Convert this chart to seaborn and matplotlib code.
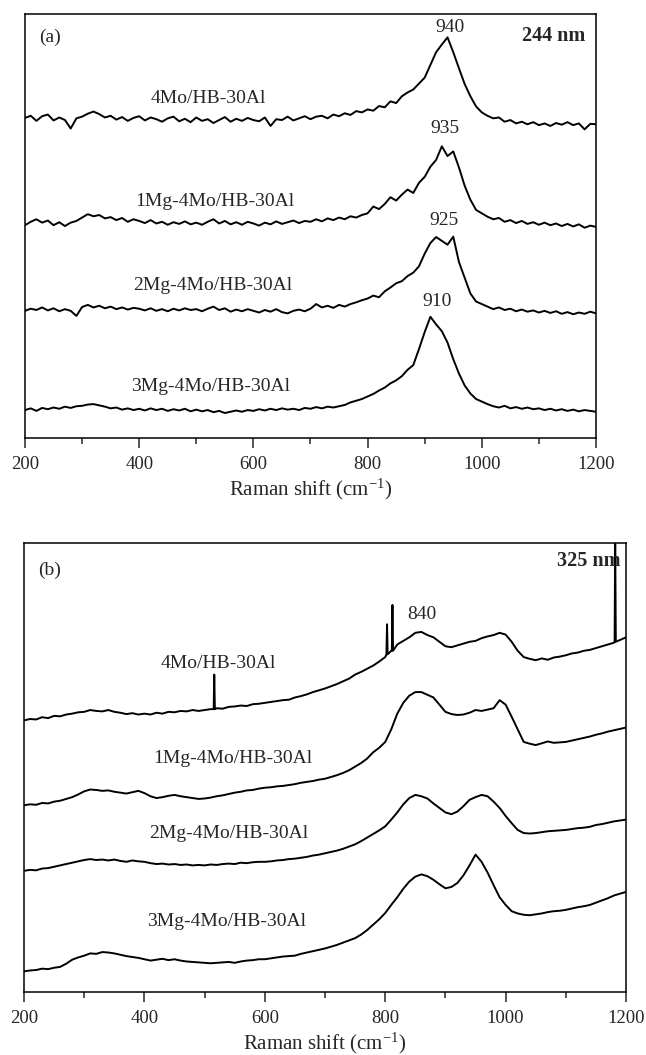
import numpy as np
import seaborn as sns
import matplotlib.pyplot as plt

sns.set_style('ticks')
plt.rcParams['font.family'] = ['Liberation Serif', 'DejaVu Serif']
plt.rcParams['mathtext.fontset'] = 'custom'
plt.rcParams['mathtext.rm'] = 'Liberation Serif'
plt.rcParams['mathtext.it'] = 'Liberation Serif:italic'

# raman shift grid, 200-1200 cm-1 every 10
shift = np.arange(200, 1201, 10)

names = ['4Mo/HB-30Al', '1Mg-4Mo/HB-30Al', '2Mg-4Mo/HB-30Al', '3Mg-4Mo/HB-30Al']

# (a) 244 nm, offset intensities (a.u.)
a_4mo = [75.5, 76.0, 74.8, 75.9, 76.3, 74.9, 75.6, 75.0, 73.0, 75.4,
         75.8, 76.5, 77.0, 76.4, 75.6, 76.0, 75.1, 75.7, 74.8, 75.5,
         75.9, 74.9, 75.6, 75.2, 74.6, 75.4, 75.8, 74.7, 75.3, 74.5,
         75.6, 74.8, 75.2, 74.3, 75.0, 75.7, 74.6, 75.3, 74.8, 75.5,
         75.0, 74.7, 75.6, 73.6, 75.2, 75.0, 75.8, 74.9, 75.4, 75.9,
         75.2, 75.8, 76.0, 75.4, 76.3, 75.9, 76.6, 76.2, 77.1, 76.8,
         77.5, 77.2, 78.3, 78.0, 79.4, 79.0, 80.6, 81.5, 82.2, 83.6,
         85.0, 88.0, 91.0, 92.8, 94.5, 91.0, 87.2, 83.5, 80.6, 78.2,
         76.8, 76.0, 75.4, 75.6, 74.6, 75.0, 74.2, 74.6, 74.0, 74.5,
         73.8, 74.2, 73.6, 74.3, 73.9, 74.5, 73.8, 74.2, 72.8, 74.1,
         74.0]
a_1mg = [50.2, 51.0, 51.6, 50.8, 51.3, 50.2, 50.9, 50.0, 50.8, 51.2,
         52.0, 52.8, 52.3, 52.6, 51.8, 52.1, 51.4, 51.9, 51.0, 51.6,
         51.2, 50.7, 51.4, 50.6, 51.0, 50.3, 50.9, 50.5, 51.1, 50.4,
         50.8, 50.3, 51.0, 51.6, 50.6, 51.2, 50.4, 50.9, 50.3, 51.0,
         50.6, 50.1, 50.8, 50.4, 51.1, 50.5, 50.9, 51.3, 50.7, 51.2,
         51.0, 51.6, 51.1, 51.8, 51.4, 52.0, 51.6, 52.3, 52.0, 52.6,
         53.0, 54.6, 54.0, 55.2, 56.8, 56.0, 57.4, 58.6, 57.8, 60.2,
         61.6, 64.0, 65.6, 68.8, 66.5, 67.6, 63.8, 59.5, 56.2, 53.8,
         53.0, 52.2, 51.6, 51.9, 51.0, 51.4, 50.7, 51.2, 50.5, 50.9,
         50.3, 50.8, 50.2, 50.6, 50.0, 50.5, 49.9, 50.4, 49.6, 50.1,
         49.8]
a_2mg = [30.0, 30.5, 30.2, 30.8, 30.1, 30.6, 29.9, 30.4, 30.0, 28.8,
         30.9, 31.4, 30.8, 31.2, 30.6, 31.0, 30.4, 30.8, 30.3, 30.7,
         30.5, 30.1, 30.6, 30.0, 30.4, 29.9, 30.5, 30.1, 30.6, 30.2,
         30.4, 29.9, 30.5, 31.0, 30.2, 30.6, 29.8, 30.3, 29.9, 30.4,
         30.0, 29.6, 30.2, 29.8, 30.4, 29.7, 29.4, 30.0, 30.3, 29.9,
         30.5, 31.6, 30.8, 31.2, 30.7, 31.4, 31.0, 31.6, 32.0, 32.5,
         32.9, 33.6, 33.2, 34.6, 35.5, 36.5, 37.0, 38.2, 39.0, 40.5,
         43.5, 46.0, 47.4, 46.5, 45.6, 47.5, 41.5, 37.8, 34.1, 32.2,
         31.6, 31.0, 30.4, 30.8, 30.2, 30.5, 29.9, 30.3, 29.8, 30.1,
         29.6, 30.0, 29.5, 29.9, 29.3, 29.7, 29.2, 29.6, 29.3, 29.8,
         29.4]
a_3mg = [6.6, 7.0, 6.4, 7.1, 6.8, 7.2, 6.9, 7.4, 7.1, 7.5,
         7.6, 7.9, 8.0, 7.7, 7.4, 7.0, 7.2, 6.7, 7.0, 6.6,
         6.9, 6.5, 7.0, 6.6, 6.9, 6.4, 6.8, 6.5, 6.9, 6.3,
         6.7, 6.3, 6.6, 6.1, 6.4, 5.9, 6.2, 6.5, 6.2, 6.6,
         6.4, 6.8, 6.5, 6.9, 6.6, 7.0, 6.7, 6.9, 6.6, 7.1,
         6.9, 7.3, 7.0, 7.4, 7.2, 7.5, 7.8, 8.4, 8.8, 9.2,
         9.8, 10.4, 11.2, 11.9, 12.9, 13.6, 14.6, 16.1, 17.2, 21.0,
         25.0, 28.6, 26.8, 25.2, 22.5, 18.6, 15.2, 12.4, 10.5, 9.2,
         8.6, 8.0, 7.5, 7.2, 7.6, 7.0, 7.3, 6.9, 7.2, 6.8,
         7.0, 6.6, 6.9, 6.5, 6.8, 6.4, 6.7, 6.3, 6.6, 6.4,
         6.2]

# (b) 325 nm
b_4mo = [60.5, 60.8, 60.7, 61.2, 61.0, 61.5, 61.4, 61.8, 62.0, 62.3,
         62.4, 62.8, 62.6, 62.5, 62.8, 62.4, 62.2, 61.9, 62.1, 61.8,
         62.0, 61.8, 62.2, 62.0, 62.4, 62.3, 62.6, 62.5, 62.8, 62.6,
         62.8, 63.0, 63.2, 63.1, 63.5, 63.6, 63.8, 63.7, 64.1, 64.2,
         64.4, 64.6, 64.8, 65.0, 65.1, 65.6, 65.9, 66.3, 66.8, 67.2,
         67.6, 68.1, 68.6, 69.2, 69.8, 70.7, 71.3, 72.0, 72.7, 73.6,
         74.6, 76.0, 77.4, 78.2, 79.0, 80.0, 80.2, 79.5, 79.0, 78.0,
         77.0, 76.8, 77.2, 77.6, 78.0, 78.2, 78.8, 79.2, 79.5, 80.0,
         79.6, 78.0, 76.0, 74.6, 74.2, 73.9, 74.3, 74.0, 74.5, 74.7,
         75.0, 75.4, 75.6, 76.0, 76.2, 76.6, 77.0, 77.4, 77.8, 78.4,
         79.0]
# sharp lines on the 4Mo/HB-30Al 325 nm spectrum
spike_x = [516, 803, 812, 1182]
spike_base = [63.0, 75.2, 76.0, 78.0]
spike_top = [70.7, 81.9, 86.2, 101.0]

b_1mg = [41.6, 41.8, 41.7, 42.1, 42.0, 42.4, 42.6, 43.0, 43.4, 44.0,
         44.7, 45.1, 45.0, 44.8, 44.9, 44.6, 44.4, 44.2, 44.5, 44.8,
         44.3, 43.6, 43.2, 43.4, 43.7, 43.9, 43.6, 43.4, 43.2, 43.0,
         43.1, 43.3, 43.6, 43.8, 44.1, 44.4, 44.6, 44.9, 45.0, 45.3,
         45.5, 45.6, 45.8, 45.9, 46.1, 46.3, 46.6, 46.8, 47.0, 47.3,
         47.5, 47.9, 48.3, 48.8, 49.4, 50.2, 51.0, 52.0, 53.4, 54.4,
         55.7, 58.5, 62.0, 64.4, 66.0, 66.8, 66.8, 66.2, 65.6, 64.0,
         62.4, 61.9, 61.7, 61.8, 62.2, 62.8, 62.6, 62.9, 63.2, 65.0,
         64.0, 61.3, 58.5, 55.7, 55.3, 55.0, 55.4, 55.8, 55.5, 55.6,
         55.7, 56.0, 56.3, 56.6, 56.9, 57.3, 57.6, 58.0, 58.3, 58.6,
         58.9]
b_2mg = [27.0, 27.2, 27.1, 27.5, 27.6, 27.9, 28.2, 28.5, 28.8, 29.1,
         29.4, 29.6, 29.4, 29.5, 29.3, 29.5, 29.2, 29.0, 29.3, 29.1,
         29.0, 28.7, 28.5, 28.6, 28.4, 28.5, 28.3, 28.4, 28.2, 28.3,
         28.2, 28.4, 28.3, 28.5, 28.6, 28.5, 28.8, 28.7, 28.9, 29.0,
         29.0, 29.1, 29.3, 29.4, 29.6, 29.7, 29.9, 30.1, 30.4, 30.6,
         30.9, 31.2, 31.5, 31.9, 32.4, 32.9, 33.6, 34.4, 35.2, 36.0,
         36.9, 38.4, 40.0, 41.8, 43.2, 43.9, 43.6, 43.1, 42.0, 41.0,
         40.0, 39.6, 40.2, 41.4, 42.8, 43.4, 43.9, 43.6, 42.4, 41.0,
         39.2, 37.6, 36.1, 35.4, 35.3, 35.4, 35.6, 35.8, 35.9, 36.0,
         36.1, 36.3, 36.5, 36.6, 36.8, 37.2, 37.4, 37.7, 38.0, 38.2,
         38.4]
b_3mg = [4.6, 4.8, 4.9, 5.2, 5.1, 5.4, 5.6, 6.3, 7.2, 7.7,
         8.1, 8.6, 8.5, 8.9, 8.8, 8.6, 8.3, 8.0, 7.8, 7.6,
         7.3, 7.0, 7.2, 7.4, 7.1, 7.3, 7.0, 6.8, 6.7, 6.6,
         6.5, 6.4, 6.5, 6.6, 6.7, 6.5, 6.8, 7.0, 7.1, 7.3,
         7.3, 7.5, 7.7, 7.9, 8.0, 8.1, 8.5, 8.8, 9.1, 9.4,
         9.7, 10.1, 10.5, 11.0, 11.5, 12.0, 12.8, 13.8, 15.0, 16.2,
         17.6, 19.4, 21.1, 23.0, 24.6, 25.7, 26.2, 25.8, 25.0, 24.0,
         23.1, 23.4, 24.3, 26.0, 28.2, 30.6, 29.0, 26.6, 23.8, 21.1,
         19.4, 18.0, 17.5, 17.2, 17.1, 17.3, 17.5, 17.8, 18.0, 18.1,
         18.3, 18.6, 18.9, 19.1, 19.4, 19.9, 20.4, 20.9, 21.5, 21.9,
         22.3]

# label positions (data coords)
a_label_x = [521, 532, 528, 525]
a_label_y = [80.0, 55.7, 36.0, 12.2]
a_peaks = ['940', '935', '925', '910']
a_peak_x = [944, 936, 933, 922]
a_peak_y = [96.9, 73.0, 51.4, 32.2]

b_label_x = [523, 547, 540, 536]
b_label_y = [73.1, 52.0, 35.3, 15.6]

# merge spikes into 4Mo 325 nm trace
sx = list(shift)
sy = list(b_4mo)
for x0, yb, yt in zip(spike_x, spike_base, spike_top):
    sx += [x0 - 1, x0, x0 + 1]
    sy += [yb, yt, yb]
order = np.argsort(sx)
b4_x = np.array(sx)[order]
b4_y = np.array(sy)[order]

fig = plt.figure(figsize=(6.46, 10.55), dpi=100)
ax1 = fig.add_axes([0.0387, 0.5848, 0.8839, 0.4019])
ax2 = fig.add_axes([0.0372, 0.0597, 0.9319, 0.4256])

fs = 14
lw = 1.4

for ys in [a_4mo, a_1mg, a_2mg, a_3mg]:
    sns.lineplot(x=shift, y=ys, color='black', lw=lw, ax=ax1)
sns.lineplot(x=b4_x, y=b4_y, color='black', lw=lw, ax=ax2, sort=False)
for ys in [b_1mg, b_2mg, b_3mg]:
    sns.lineplot(x=shift, y=ys, color='black', lw=lw, ax=ax2)

for i in range(4):
    ax1.text(a_label_x[i], a_label_y[i], names[i], fontsize=fs, ha='center', va='center')
    ax1.text(a_peak_x[i], a_peak_y[i], a_peaks[i], fontsize=fs, ha='center', va='center')
    ax2.text(b_label_x[i], b_label_y[i], names[i], fontsize=fs, ha='center', va='center')
ax2.text(861, 84.1, '840', fontsize=fs, ha='center', va='center')

ax1.text(243, 94.5, '(a)', fontsize=fs, ha='center', va='center')
ax2.text(242, 94.0, '(b)', fontsize=fs, ha='center', va='center')
ax1.text(1182, 94.9, '244 nm', fontsize=14.5, ha='right', va='center', fontweight='bold')
ax2.text(1190, 95.9, '325 nm', fontsize=14.5, ha='right', va='center', fontweight='bold')

for ax in [ax1, ax2]:
    ax.set_xlim(200, 1200)
    ax.set_ylim(0, 100)
    ax.set_yticks([])
    ax.set_xticks(range(200, 1201, 200))
    ax.set_xticks(range(300, 1200, 200), minor=True)
    ax.tick_params(axis='x', which='major', length=7, width=1.1, labelsize=13.5, pad=6)
    ax.tick_params(axis='x', which='minor', length=4, width=1.1)
    for s in ax.spines.values():
        s.set_linewidth(1.1)
        s.set_color('black')
    ax.set_xlabel('Raman shift (cm$^{-1}$)', fontsize=15, labelpad=3)
    ax.set_ylabel('')

plt.savefig('out.png', dpi=100)
